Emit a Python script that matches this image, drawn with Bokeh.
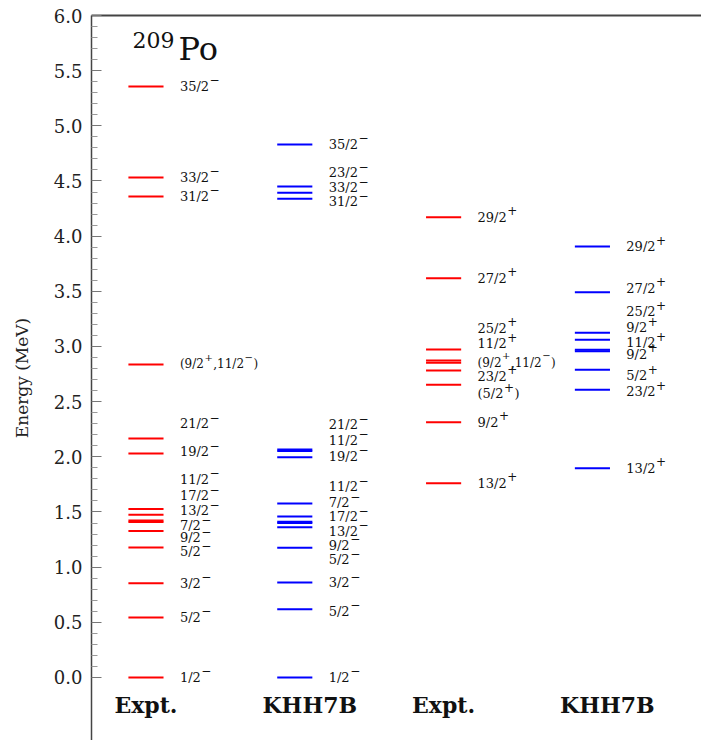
from bokeh.plotting import figure
from bokeh.models import ColumnDataSource, LinearAxis, FixedTicker, NumeralTickFormatter, Range1d, Label
from bokeh.core.properties import value, field
from bokeh.embed import file_html
from bokeh.resources import INLINE

# ---------------- data ----------------
col_names = ["Expt.", "KHH7B", "Expt.", "KHH7B"]

expt_neg_E = [0.000, 0.544, 0.855, 1.178, 1.328, 1.410, 1.422, 1.475, 1.527, 2.030, 2.166, 2.837, 4.360, 4.532, 5.357]
expt_neg_J = ["1/2^-", "5/2^-", "3/2^-", "5/2^-", "9/2^-", "7/2^-", "13/2^-", "17/2^-", "11/2^-", "19/2^-", "21/2^-",
              "(9/2^+,11/2^-)", "31/2^-", "33/2^-", "35/2^-"]

khh_neg_E = [0.000, 0.619, 0.861, 1.176, 1.362, 1.400, 1.412, 1.459, 1.577, 1.997, 2.052, 2.066, 4.339, 4.393, 4.450, 4.831]
khh_neg_J = ["1/2^-", "5/2^-", "3/2^-", "5/2^-", "9/2^-", "13/2^-", "17/2^-", "7/2^-", "11/2^-", "19/2^-", "11/2^-",
             "21/2^-", "31/2^-", "33/2^-", "23/2^-", "35/2^-"]

expt_pos_E = [1.761, 2.314, 2.653, 2.783, 2.852, 2.873, 2.973, 3.619, 4.172]
expt_pos_J = ["13/2^+", "9/2^+", "(5/2^+)", "23/2^+", "(9/2^+,11/2^-)", "11/2^+", "25/2^+", "27/2^+", "29/2^+"]

khh_pos_E = [1.897, 2.608, 2.789, 2.957, 2.971, 3.061, 3.124, 3.492, 3.906]
khh_pos_J = ["13/2^+", "23/2^+", "5/2^+", "9/2^+", "11/2^+", "9/2^+", "25/2^+", "27/2^+", "29/2^+"]

y_major = [0.0, 0.5, 1.0, 1.5, 2.0, 2.5, 3.0, 3.5, 4.0, 4.5, 5.0, 5.5, 6.0]

# ---------------- layout (label de-overlap offsets, px; + is down) ----------------
expt_neg_dy = [0, 0, 0, 4, 7, 4, -10, -19, -30, -2, -15, 0, 0, 0, 0]
khh_neg_dy = [0, 2, 0, 12, 18, 8, -5, -14, -17, -1, -11, -25, 3, -5, -14, 0]
expt_pos_dy = [0, 0, 9, 6, 0, -17, -21, 0, 0]
khh_pos_dy = [0, 2, 6, 3, -7, -12, -21, -4, 0]
name_dx = [0, 15, 0, 15]

FONT = "DejaVu Serif"
HALF = 0.118
LAB_DX = 0.228
SUP_RAISE = 7

# DejaVu Serif advance widths (em) for width estimation of label pieces
ADV = {c: 0.636 for c in "0123456789"}
ADV.update({"/": 0.337, "(": 0.390, ")": 0.390, ",": 0.318, "+": 0.838, "\u2212": 0.838})


def pieces(s):
    out, buf, i = [], "", 0
    while i < len(s):
        if s[i] == "^":
            if buf:
                out.append((buf, False))
                buf = ""
            ch = s[i + 1]
            out.append(("\u2212" if ch == "-" else ch, True))
            i += 2
        else:
            buf += s[i]
            i += 1
    if buf:
        out.append((buf, False))
    return out


columns = [
    (expt_neg_E, expt_neg_J, expt_neg_dy, "#ff0000"),
    (khh_neg_E, khh_neg_J, khh_neg_dy, "#0000ff"),
    (expt_pos_E, expt_pos_J, expt_pos_dy, "#ff0000"),
    (khh_pos_E, khh_pos_J, khh_pos_dy, "#0000ff"),
]

p = figure(width=701, height=740,
           x_range=Range1d(-0.366, 3.733), y_range=Range1d(-0.571, 6.0),
           output_backend="svg", toolbar_location=None,
           x_axis_location=None, y_axis_location=None,
           min_border_left=91, min_border_right=0, min_border_top=15, min_border_bottom=0)
p.outline_line_color = None
p.xgrid.visible = False
p.ygrid.visible = False
p.background_fill_color = "white"
p.border_fill_color = "white"

y_minor = [round(0.1 * k, 1) for k in range(0, 61) if k % 5 != 0]

yaxis = LinearAxis(ticker=FixedTicker(ticks=y_major, minor_ticks=y_minor),
                   formatter=NumeralTickFormatter(format="0.0"),
                   axis_label="Energy (MeV)")
yaxis.axis_line_color = "#444444"
yaxis.axis_line_width = 1.5
yaxis.major_tick_in = 10
yaxis.major_tick_out = 0
yaxis.minor_tick_in = 6
yaxis.minor_tick_out = 0
yaxis.major_tick_line_color = "#777777"
yaxis.minor_tick_line_color = "#999999"
yaxis.major_label_standoff = 9
yaxis.major_label_text_font = FONT
yaxis.major_label_text_font_size = "18px"
yaxis.major_label_text_color = "#222222"
yaxis.axis_label_standoff = 19
yaxis.axis_label_text_font = FONT
yaxis.axis_label_text_font_size = "17px"
yaxis.axis_label_text_font_style = "normal"
yaxis.axis_label_text_color = "#222222"
p.add_layout(yaxis, "left")

top = LinearAxis(ticker=FixedTicker(ticks=[]))
top.axis_line_color = "#444444"
top.axis_line_width = 2
top.major_tick_in = 0
top.major_tick_out = 0
top.minor_tick_in = 0
top.minor_tick_out = 0
top.major_label_text_font_size = "0px"
top.major_label_standoff = 0
p.add_layout(top, "above")

for i, (E, J, dy, color) in enumerate(columns):
    seg = ColumnDataSource(dict(x0=[i - HALF] * len(E), x1=[i + HALF] * len(E), y=E))
    p.segment(x0="x0", y0="y", x1="x1", y1="y", source=seg, line_color=color, line_width=2)

    tx, ty, txo, tyo, tt, tfs = [], [], [], [], [], []
    for e, j, d in zip(E, J, dy):
        small = len(j) > 10
        base_fs = 12 if small else 13
        sup_fs = 10 if small else 12
        xo = 0.0
        for txt, sup in pieces(j):
            fs = sup_fs if sup else base_fs
            tx.append(i + LAB_DX)
            ty.append(e)
            txo.append(xo + (0.5 if sup else 0.0))
            tyo.append(d - (SUP_RAISE if sup else 0))
            tt.append(txt)
            tfs.append(f"{fs}px")
            xo += sum(ADV.get(c, 0.6) for c in txt) * fs + (1.0 if sup else 0.0)
    lab = ColumnDataSource(dict(x=tx, y=ty, xo=txo, yo=tyo, text=tt, fs=tfs))
    p.text(x="x", y="y", text="text", source=lab, x_offset="xo", y_offset="yo",
           text_font=value(FONT), text_font_size=field("fs"),
           text_baseline="middle", text_align="left", text_color="#111111")

name_src = ColumnDataSource(dict(x=list(range(len(col_names))), y=[-0.25] * len(col_names),
                                 text=col_names, dx=name_dx))
p.text(x="x", y="y", text="text", source=name_src, x_offset="dx",
       text_font=value(FONT), text_font_size="22px", text_font_style="bold",
       text_align="center", text_baseline="middle", text_color="#111111")

p.add_layout(Label(x=0.218, y=5.692, text="Po", text_font=FONT, text_font_size="32px",
                   text_align="left", text_baseline="alphabetic", text_color="#111111"))
p.add_layout(Label(x=0.192, y=5.778, text="209", text_font=FONT, text_font_size="22px",
                   text_align="right", text_baseline="alphabetic", text_color="#111111"))

open("out.html", "w").write(file_html(p, INLINE))
